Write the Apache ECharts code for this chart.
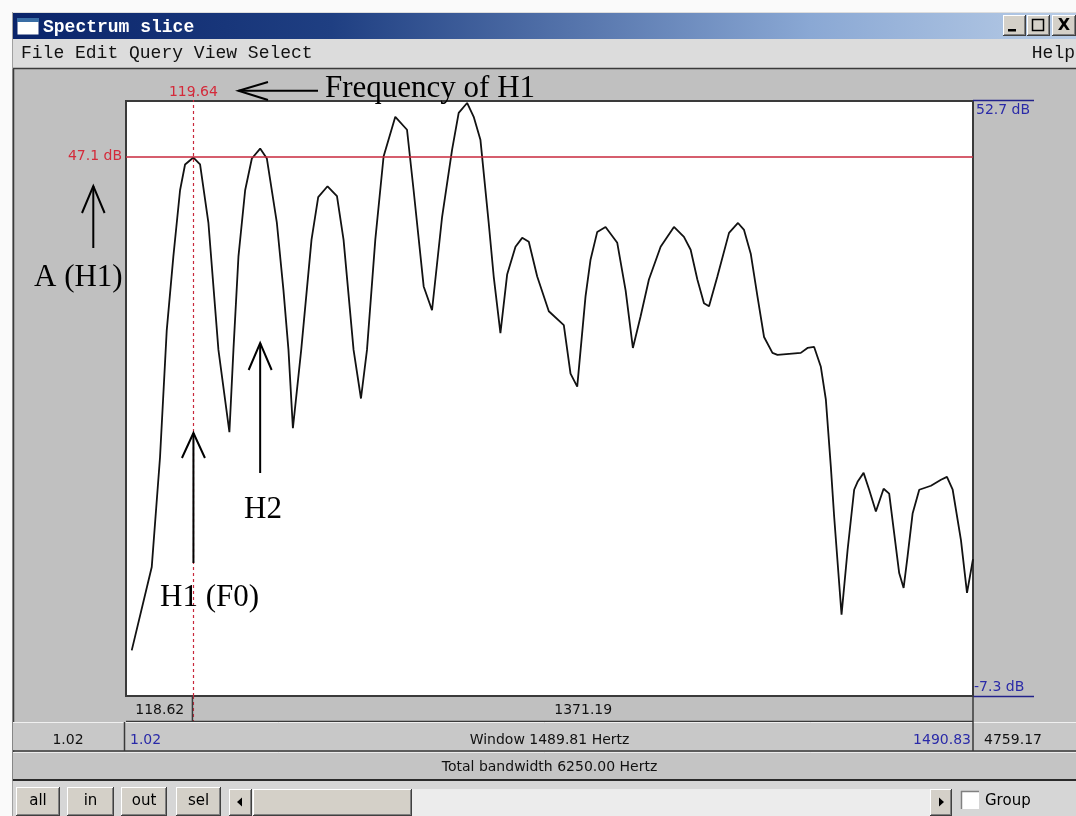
<!DOCTYPE html>
<html><head><meta charset="utf-8">
<script src="https://cdn.jsdelivr.net/npm/echarts@6/dist/echarts.min.js"></script>
<style>html,body{margin:0;padding:0;background:#fff}#c{width:1076px;height:816px}</style>
</head><body><div id="c"></div>
<script>
// ---- data ----
const xRange = [1.02, 1490.83];          // Hz shown in window
const yRange = [-7.3, 52.7];             // dB
const cursorFreq = 119.64;               // frequency of H1
const cursorLevel = 47.1;                // amplitude of H1
const h2Freq = 237.0;                    // H2 peak
const spectrumPoints = [
  [11.1,-2.7],[46.3,5.7],[60.9,16.8],[72.7,29.6],[84.3,37.0],[96.1,43.7],[104.9,46.3],[119.6,47.0],[131.3,46.3],[146.0,40.4],[163.6,27.6],[182.9,19.3],
  [190.0,27.6],[198.8,37.0],[210.6,43.7],[222.4,46.9],[237.0,47.9],[248.8,46.9],[266.4,40.4],[278.0,33.6],[286.8,27.6],[294.6,19.7],
  [309.2,27.6],[327.3,38.7],[339.1,43.0],[355.5,44.1],[372.1,43.1],[383.7,38.7],[401.3,27.6],[414.3,22.7],
  [424.9,27.6],[439.5,38.7],[454.1,47.1],[474.7,51.1],[495.3,49.8],[506.9,43.7],[524.6,34.0],[539.3,31.6],
  [557.0,41.0],[574.6,47.8],[586.2,51.5],[601.0,52.5],[612.6,51.1],[624.4,48.8],[639.0,40.4],[647.8,35.0],[659.6,29.3],
  [671.4,35.2],[686.1,38.0],[697.9,38.9],[709.5,38.5],[724.3,35.0],[744.7,31.5],[771.1,30.1],[782.9,25.2],[794.7,23.9],
  [809.3,33.0],[818.1,36.7],[829.9,39.5],[844.5,40.0],[865.1,38.4],[879.8,33.6],[892.6,27.8],
  [906.2,31.0],[920.8,34.7],[941.4,38.0],[964.8,40.0],[982.4,39.0],[994.2,37.7],[1006.0,34.7],[1017.6,32.3],[1026.5,32.0],
  [1041.2,35.0],[1061.7,39.4],[1077.5,40.4],[1088.1,39.7],[1099.9,37.3],[1111.7,33.0],[1123.3,28.9],[1138.1,27.3],[1146.9,27.1],
  [1187.9,27.3],[1199.7,27.8],[1211.4,27.9],[1223.2,25.9],[1232.0,22.6],[1240.8,15.8],[1246.6,10.8],[1255.4,4.1],[1259.6,0.9],
  [1270.2,7.4],[1281.8,13.5],[1287.8,14.3],[1298.4,15.2],[1308.2,13.5],[1320.0,11.3],[1333.6,13.6],[1343.4,13.1],[1352.2,9.1],[1361.0,5.1],[1368.8,3.6],
  [1375.8,6.8],[1384.6,11.1],[1396.3,13.5],[1416.9,13.9],[1434.5,14.5],[1445.0,14.8],[1455.1,13.5],[1469.7,8.4],[1480.3,3.1],[1490.8,6.5]
];
// texts
const windowTitle = 'Spectrum slice';
const menuText = 'File Edit Query View Select';
const helpText = 'Help';
const cursorFreqLabel = '119.64';
const cursorLevelLabel = '47.1 dB';
const yTopLabel = '52.7 dB';
const yBottomLabel = '-7.3 dB';
const leftOfCursor = '118.62';
const rightOfCursor = '1371.19';
const totalStart = '1.02';
const windowStart = '1.02';
const windowText = 'Window 1489.81 Hertz';
const windowEnd = '1490.83';
const totalEnd = '4759.17';
const bandwidthText = 'Total bandwidth 6250.00 Hertz';
const buttonLabels = ['all','in','out','sel'];
const groupLabel = 'Group';
const annFreq = 'Frequency of H1';
const annA = 'A (H1)';
const annH1 = 'H1 (F0)';
const annH2 = 'H2';

// ---- chart ----
const chart = echarts.init(document.getElementById('c'));
const RED = '#c8283c';
chart.setOption({
  backgroundColor: '#c0c0c0',
  animation: false,
  grid: {left:126, top:101, width:847, height:595, show:true, backgroundColor:'#ffffff', borderColor:'#3a3a3a', borderWidth:2},
  xAxis: {type:'value', min:xRange[0], max:xRange[1], show:false},
  yAxis: {type:'value', min:yRange[0], max:yRange[1], show:false},
  series: [{
    type:'line', data: spectrumPoints, showSymbol:false, symbol:'none', silent:true,
    lineStyle:{color:'#121212', width:1.8},
    markLine:{symbol:'none', silent:true, label:{show:false},
      data:[
        {yAxis:cursorLevel, lineStyle:{color:RED, width:1.5, type:'solid'}},
        {xAxis:cursorFreq, lineStyle:{color:RED, width:1.2, type:[3,3]}}
      ]}
  }]
});

const P = (x,y) => chart.convertToPixel({gridIndex:0}, [x,y]);
const cx = P(cursorFreq, cursorLevel)[0];
const cy = P(cursorFreq, cursorLevel)[1];
const h2x = P(h2Freq, 0)[0];
const pTop = P(xRange[0], yRange[1]);
const pBot = P(xRange[1], yRange[0]);
const L = pTop[0], T = pTop[1], R = pBot[0], B = pBot[1];

const els = [];
const Z = 50;
function rect(x,y,w,h,fill,stroke,lw){els.push({type:'rect',z:Z,silent:true,shape:{x,y,width:w,height:h},style:{fill:fill||'none',stroke:stroke||null,lineWidth:lw||1}});}
function line(x1,y1,x2,y2,color,w,dash){els.push({type:'line',z:Z,silent:true,shape:{x1,y1,x2,y2},style:{stroke:color,lineWidth:w||1,lineDash:dash||null}});}
function poly(points,color,w){els.push({type:'polyline',z:Z,silent:true,shape:{points},style:{stroke:color,lineWidth:w||1,fill:null}});}
function tri(points,color){els.push({type:'polygon',z:Z,silent:true,shape:{points},style:{fill:color}});}
function text(x,y,str,font,fill,align){els.push({type:'text',z:Z+1,silent:true,x,y,style:{text:str,font,fill,textAlign:align||'left',textVerticalAlign:'middle'}});}
function button(x,y,w,h){
  rect(x,y,w,h,'#d4d0c8');
  line(x,y+0.5,x+w,y+0.5,'#ffffff',1); line(x+0.5,y,x+0.5,y+h,'#ffffff',1);
  line(x,y+h-0.5,x+w,y+h-0.5,'#404040',1); line(x+w-0.5,y,x+w-0.5,y+h,'#404040',1);
  line(x+1,y+h-1.5,x+w-1,y+h-1.5,'#808080',1); line(x+w-1.5,y+1,x+w-1.5,y+h-1,'#808080',1);
}
const UI = '14px "DejaVu Sans"';
const SERIF = '31px "Liberation Serif"';

// page margin outside the window
rect(0,0,1076,12.5,'#fafafa');
rect(0,0,12.5,816,'#fafafa');
line(12.5,12,12.5,816,'#a0a0a0',1);
// title bar
els.push({type:'rect',z:Z,silent:true,shape:{x:13,y:13,width:1063,height:26},style:{fill:{type:'linear',x:0,y:0,x2:1,y2:0,colorStops:[{offset:0,color:'#0a246a'},{offset:0.3,color:'#1f3f82'},{offset:0.75,color:'#8aa8d4'},{offset:1,color:'#b8cce6'}]}}});
rect(17,18,22,17,'#ffffff','#0a246a',1);
rect(17,18,22,4,'#3a6ea5');
text(43,27,windowTitle,'bold 18px "Liberation Mono"','#ffffff');
// window buttons
button(1003,15,23,21); button(1027,15,23,21); button(1052,15,24,21);
rect(1008,29,8,2.5,'#000');
rect(1032.5,19.5,11,11,'none','#000',1.5);
text(1064,26,'X','bold 16px "DejaVu Sans"','#000','center');
// menu bar
rect(13,39,1063,30,'#dcdcdc');
text(21,53,menuText,'18px "Liberation Mono"','#111');
text(1075,53,helpText,'18px "Liberation Mono"','#111','right');
line(13,68.5,1076,68.5,'#3a3a3a',1.5);
// left border of panel
line(13.5,69,13.5,781,'#3a3a3a',1.5);

// cursor labels
text(cx,92,cursorFreqLabel,UI,'#d42a3a','center');
line(cx,94,cx,T,RED,1.2,[3,3]);
line(cx,B,cx,721,RED,1.2,[3,3]);
text(L-4,cy,cursorLevelLabel,UI,'#d42a3a','right');
// right scale labels
line(R,T-0.5,R+61,T-0.5,'#22228a',1.5);
text(R+3,110,yTopLabel,UI,'#2a2aa8','left');
text(R+1,687,yBottomLabel,UI,'#2a2aa8','left');
line(R,B+0.5,R+61,B+0.5,'#22228a',1.5);

// bottom rows
line(L,721.5,R,721.5,'#3a3a3a',1.5);
line(cx-1,B,cx-1,721,'#3a3a3a',1.5);
line(R,B,R,751,'#3a3a3a',1.5);
text((L+cx)/2,710,leftOfCursor,UI,'#111','center');
text((cx+R)/2,710,rightOfCursor,UI,'#111','center');
rect(13,722.5,1063,28,'#c8c8c8');
line(13,722.5,1076,722.5,'#f0f0f0',1);
line(L-1.5,722,L-1.5,751,'#3a3a3a',1.5);
line(R,722,R,751,'#3a3a3a',1.5);
line(13,751,1076,751,'#3a3a3a',1.5);
text(68,740,totalStart,UI,'#111','center');
text(L+4,740,windowStart,UI,'#2a2aa8','left');
text((L+R)/2,740,windowText,UI,'#111','center');
text(R-2,740,windowEnd,UI,'#2a2aa8','right');
text(1013,740,totalEnd,UI,'#111','center');
rect(13,752,1063,27,'#c4c4c4');
line(13,752.5,1076,752.5,'#ececec',1);
text((L+R)/2,767,bandwidthText,UI,'#111','center');
line(13,780,1076,780,'#2a2a2a',2);
// button row
rect(13,781,1063,35,'#d6d6d6');
const bx = [[16,44],[67,47],[121,46],[176,45]];
buttonLabels.forEach((b,i)=>{button(bx[i][0],787,bx[i][1],29); text(bx[i][0]+bx[i][1]/2,801,b,'15px "DejaVu Sans"','#000','center');});
rect(252,789,678,27,'#ececec');
button(229,789,23,27); tri([[237,802],[242,797.5],[242,806.5]],'#000');
button(253,789,159,27);
button(930,789,22,27); tri([[944,802],[939,797.5],[939,806.5]],'#000');
rect(961,791,18,18,'#ffffff');
line(961,791.5,979,791.5,'#808080',1.5); line(961.5,791,961.5,809,'#808080',1.5);
text(985,801,groupLabel,'15px "DejaVu Sans"','#000','left');

// annotations
poly([[318,90.7],[238.5,90.7]],'#000',2);
poly([[268,82],[238.5,90.7],[268,100]],'#000',2);
text(325,89,annFreq,SERIF,'#000','left');
poly([[93.3,248],[93.3,186]],'#000',2);
poly([[82,213],[93.3,186],[104.6,213]],'#000',2);
text(34,278,annA,SERIF,'#000','left');
poly([[cx,563],[cx,433]],'#000',2);
poly([[cx-11.5,458],[cx,433],[cx+11.5,458]],'#000',2);
text(160,598,annH1,SERIF,'#000','left');
poly([[h2x,473],[h2x,343]],'#000',2);
poly([[h2x-11.5,370],[h2x,343],[h2x+11.5,370]],'#000',2);
text(244,510,annH2,SERIF,'#000','left');

chart.setOption({graphic:{elements:els}});
</script>
</body></html>
